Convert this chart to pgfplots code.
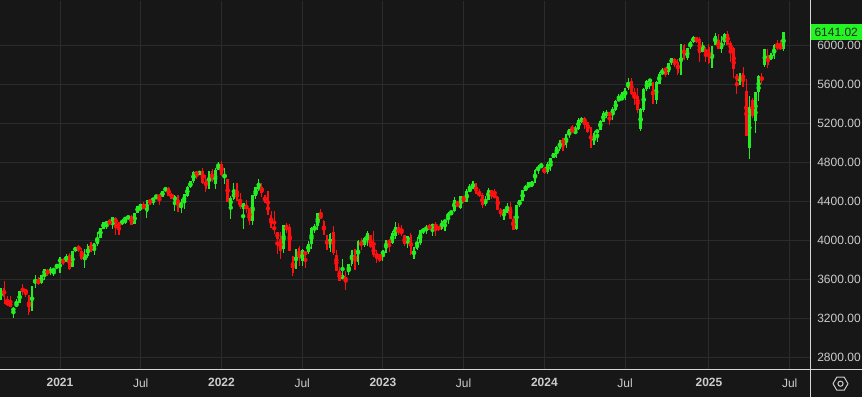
\documentclass[border=0pt]{standalone}
\usepackage{pgfplots}
\pgfplotsset{compat=1.18}
\usepackage{pgfplotstable}
\usepackage{fontspec}
\setmainfont{Liberation Sans}
\definecolor{bgc}{HTML}{171717}
\definecolor{gridc}{HTML}{2B2B2B}
\definecolor{txtc}{HTML}{CCCCCC}
\definecolor{sepc}{HTML}{D6D6D6}
\definecolor{upc}{HTML}{22EE22}
\definecolor{dnc}{HTML}{FF1010}
\definecolor{lastc}{HTML}{22F522}

% weekly candles, n = weeks since week of 4 Jan 2021
\pgfplotstableread{
n o h l c
-19 3418 3509 3393 3508
-15 3285 3320 3209 3298
-14 3333 3397 3323 3348
-13 3367 3482 3354 3477
-9 3296 3529 3279 3509
-8 3583 3646 3511 3585
-6 3566 3645 3556 3638
-5 3654 3699 3594 3699
-3 3675 3726 3648 3709
-2 3694 3711 3636 3703
-1 3723 3760 3705 3756
0 3764 3826 3662 3825
2 3784 3861 3775 3841
4 3732 3887 3725 3887
5 3892 3935 3885 3934
8 3838 3914 3723 3842
9 3844 3960 3824 3943
11 3916 3975 3853 3974
12 3969 4083 3944 4020
13 4034 4130 4034 4129
14 4125 4191 4119 4185
15 4179 4195 4118 4180
17 4192 4238 4118 4233
20 4170 4218 4158 4204
21 4216 4234 4168 4230
22 4229 4255 4219 4247
24 4174 4286 4165 4281
25 4284 4356 4280 4352
26 4343 4372 4300 4370
28 4297 4415 4233 4412
30 4406 4440 4367 4437
31 4438 4468 4422 4468
33 4450 4510 4448 4509
34 4514 4545 4509 4535
37 4403 4465 4306 4455
39 4348 4429 4278 4391
40 4385 4475 4329 4471
41 4463 4560 4447 4545
42 4553 4608 4537 4605
43 4611 4718 4595 4697
45 4689 4718 4672 4698
48 4548 4713 4532 4712
50 4588 4740 4532 4725
51 4733 4808 4733 4766
53 4655 4749 4582 4663
55 4357 4453 4222 4432
56 4432 4595 4414 4501
59 4332 4385 4115 4385
62 4202 4465 4162 4463
63 4462 4546 4424 4543
64 4541 4637 4507 4546
72 3919 4158 3875 4158
76 3715 3914 3706 3912
78 3793 3918 3743 3899
80 3883 3999 3861 3962
81 3966 4140 3910 4130
82 4112 4167 4079 4145
83 4155 4280 4112 4280
87 3931 4077 3887 4067
91 3609 3807 3608 3640
93 3677 3757 3642 3753
94 3765 3905 3734 3901
96 3780 4001 3751 3993
98 3956 4034 3938 4026
99 4005 4101 3939 4072
104 3853 3907 3794 3895
105 3910 4000 3877 3999
107 3978 4095 3960 4071
108 4055 4195 4011 4136
112 3992 4049 3928 4046
114 3835 3937 3809 3917
115 3917 4039 3901 3971
116 3982 4110 3951 4109
117 4102 4133 4069 4105
118 4110 4164 4072 4138
120 4134 4170 4049 4169
123 4126 4212 4109 4192
124 4190 4212 4103 4205
125 4226 4290 4167 4282
126 4283 4299 4261 4299
127 4308 4448 4290 4410
129 4337 4458 4328 4450
131 4395 4528 4391 4505
132 4502 4578 4502 4536
133 4543 4607 4528 4582
137 4380 4460 4356 4406
138 4422 4541 4417 4516
143 4284 4319 4216 4309
144 4289 4386 4283 4328
147 4120 4366 4113 4358
148 4365 4421 4343 4415
149 4406 4521 4401 4514
150 4512 4569 4510 4559
151 4555 4595 4537 4595
152 4569 4609 4546 4604
153 4593 4738 4593 4719
154 4725 4779 4688 4754
155 4758 4793 4751 4770
157 4703 4802 4682 4784
158 4772 4842 4714 4840
159 4853 4903 4845 4891
160 4892 4975 4845 4959
161 4943 5030 4919 5027
163 4989 5098 4946 5089
164 5093 5140 5057 5137
166 5111 5179 5105 5117
167 5154 5261 5135 5234
168 5219 5265 5203 5254
172 4987 5123 4983 5100
173 5114 5139 5011 5128
174 5142 5239 5142 5223
175 5221 5325 5212 5303
176 5300 5342 5256 5305
178 5297 5376 5234 5347
179 5341 5447 5327 5432
180 5432 5506 5428 5465
181 5459 5524 5447 5460
182 5471 5570 5447 5567
183 5573 5670 5546 5615
187 5151 5358 5120 5344
188 5345 5564 5324 5554
189 5557 5644 5536 5634
190 5637 5651 5560 5648
192 5442 5636 5406 5626
193 5615 5733 5604 5703
194 5712 5767 5704 5738
196 5737 5822 5697 5815
197 5829 5879 5807 5865
200 5724 6013 5696 5996
202 5883 5972 5856 5969
203 5992 6045 5963 6032
204 6040 6099 6023 6090
207 5940 6040 5933 5971
210 5799 6000 5773 5997
211 6015 6129 6006 6101
213 5969 6101 5923 6026
214 6046 6127 6003 6115
219 5635 5715 5597 5668
222 4953 5481 4835 5363
224 5233 5528 5101 5525
225 5529 5700 5433 5687
227 5807 5959 5786 5958
229 5854 5924 5851 5912
230 5897 6017 5862 6000
233 5970 6146 5943 6141.02
}\upd

\pgfplotstableread{
n o h l c
-18 3509 3588 3349 3427
-17 3371 3429 3330 3341
-16 3364 3428 3313 3319
-12 3500 3550 3440 3483
-11 3494 3502 3425 3465
-10 3441 3441 3233 3270
-7 3600 3628 3543 3557
-4 3695 3712 3633 3663
1 3803 3823 3750 3768
3 3851 3870 3694 3714
6 3939 3950 3884 3907
7 3886 3928 3805 3811
10 3942 3983 3886 3913
16 4185 4218 4166 4181
18 4228 4238 4057 4174
19 4169 4186 4061 4156
23 4248 4262 4164 4166
27 4373 4393 4321 4327
29 4409 4430 4366 4395
32 4462 4480 4368 4442
35 4535 4549 4458 4459
36 4474 4486 4429 4433
38 4442 4466 4288 4357
44 4701 4714 4630 4682
46 4712 4744 4585 4595
47 4628 4672 4495 4538
49 4710 4731 4600 4620
52 4778 4819 4662 4677
54 4632 4632 4395 4398
57 4505 4590 4401 4419
58 4412 4490 4327 4349
60 4354 4416 4279 4329
61 4327 4327 4157 4204
65 4547 4593 4450 4488
66 4462 4471 4381 4392
67 4385 4512 4267 4272
68 4255 4308 4124 4132
69 4130 4307 4063 4123
70 4082 4082 3859 4024
71 4013 4090 3811 3901
73 4151 4177 4074 4109
74 4134 4169 3900 3901
75 3838 3838 3637 3675
77 3920 3946 3741 3825
79 3880 3880 3722 3863
84 4270 4325 4218 4228
85 4195 4207 4058 4058
86 4035 4062 3907 3924
88 4084 4150 3856 3873
89 3849 3907 3693 3693
90 3682 3733 3584 3586
92 3625 3686 3491 3583
95 3881 3911 3699 3771
97 3977 4028 3906 3965
100 4053 4053 3919 3934
101 3940 4101 3828 3852
102 3854 3902 3765 3845
103 3843 3846 3780 3840
106 3999 4016 3886 3973
109 4112 4176 4060 4090
110 4096 4163 4047 4079
111 4051 4051 3944 3970
113 4055 4079 3847 3862
119 4140 4169 4113 4133
121 4167 4187 4048 4136
122 4136 4154 4099 4124
128 4397 4401 4341 4348
130 4450 4456 4385 4399
134 4584 4584 4474 4478
135 4492 4527 4450 4464
136 4465 4490 4335 4370
139 4510 4514 4430 4457
140 4460 4527 4448 4450
141 4446 4461 4317 4320
142 4310 4338 4238 4288
145 4343 4394 4223 4224
146 4218 4255 4104 4117
156 4745 4755 4682 4697
162 5026 5048 4920 5006
165 5131 5189 5112 5124
169 5257 5264 5146 5204
170 5218 5222 5107 5123
171 5149 5168 4953 4967
177 5315 5315 5191 5278
184 5638 5669 5497 5505
185 5526 5567 5390 5459
186 5476 5566 5305 5347
191 5623 5623 5402 5408
195 5757 5765 5674 5751
198 5858 5878 5784 5808
199 5834 5863 5703 5729
201 6008 6018 5853 5870
205 6083 6086 6025 6051
206 6064 6085 5833 5931
208 5950 5985 5829 5940
209 5982 6021 5808 5827
212 6044 6120 5962 5970
215 6121 6147 6008 6013
216 6026 6044 5837 5955
217 5969 5986 5666 5770
218 5705 5705 5505 5639
220 5718 5786 5581 5581
221 5527 5655 5069 5074
223 5441 5459 5262 5283
226 5668 5720 5603 5660
228 5902 5968 5767 5803
231 6005 6060 5952 5977
232 5996 6059 5958 5968
}\dnd

\begin{document}
\begin{tikzpicture}[x=1pt,y=1pt]
\path[use as bounding box] (0,0) rectangle (862,397);
\fill[bgc] (0,0) rectangle (862,397);
\begin{axis}[
  at={(0,28)}, anchor=south west,
  scale only axis, width=810pt, height=369pt,
  xmin=-19.32, xmax=241.55, ymin=2674, ymax=6462,
  axis line style={draw=none},
  major tick length=0pt,
  xtick={0,26,52,78,104,130,156,182,209,235},
  xticklabels={\textbf{2021},Jul,\textbf{2022},Jul,\textbf{2023},Jul,\textbf{2024},Jul,\textbf{2025},Jul},
  ytick={2800,3200,3600,4000,4400,4800,5200,5600,6000},
  grid=major,
  major grid style={draw=gridc, line width=0.9pt},
  yticklabel pos=right,
  tick label style={text=txtc, font=\fontsize{12}{14}\selectfont},
  yticklabel style={anchor=center, xshift=29pt,
    /pgf/number format/.cd, fixed, fixed zerofill, precision=2, 1000 sep={}, assume math mode=true},
  xticklabel style={anchor=center, yshift=-13pt},
  clip mode=individual,
]
% wicks
\addplot[color=upc, only marks, mark=none, forget plot,
  error bars/.cd, y dir=both, y explicit, error mark=none,
  error bar style={color=upc, line width=1.1pt}]
  table[x=n, y expr={(\thisrow{h}+\thisrow{l})/2}, y error expr={(\thisrow{h}-\thisrow{l})/2}] \upd;
\addplot[color=dnc, only marks, mark=none, forget plot,
  error bars/.cd, y dir=both, y explicit, error mark=none,
  error bar style={color=dnc, line width=1.1pt}]
  table[x=n, y expr={(\thisrow{h}+\thisrow{l})/2}, y error expr={(\thisrow{h}-\thisrow{l})/2}] \dnd;
% bodies
\addplot[color=upc, only marks, mark=none, forget plot,
  error bars/.cd, y dir=both, y explicit, error mark=none,
  error bar style={color=upc, line width=2.7pt}]
  table[x=n, y expr={(\thisrow{o}+\thisrow{c})/2}, y error expr={abs(\thisrow{c}-\thisrow{o})/2+4}] \upd;
\addplot[color=dnc, only marks, mark=none, forget plot,
  error bars/.cd, y dir=both, y explicit, error mark=none,
  error bar style={color=dnc, line width=2.7pt}]
  table[x=n, y expr={(\thisrow{o}+\thisrow{c})/2}, y error expr={abs(\thisrow{c}-\thisrow{o})/2+4}] \dnd;
% last price label
\node[fill=lastc, text=black!85, anchor=west, inner sep=0pt, minimum width=52pt, minimum height=16.5pt,
  font=\fontsize{12}{14}\selectfont] at (axis cs:241.55,6141.02) {6141.02};
\end{axis}
\draw[sepc, line width=1pt] (0,28) -- (862,28);
\draw[sepc, line width=1pt] (810,0) -- (810,397);
% settings icon
\draw[txtc, line width=1pt, line join=round] (848,13.3) -- (844.2,19.8) -- (836.8,19.8) -- (833,13.3) -- (836.8,6.8) -- (844.2,6.8) -- cycle;
\draw[txtc, line width=1pt] (840.5,13.3) circle (2.6);
\end{tikzpicture}
\end{document}
